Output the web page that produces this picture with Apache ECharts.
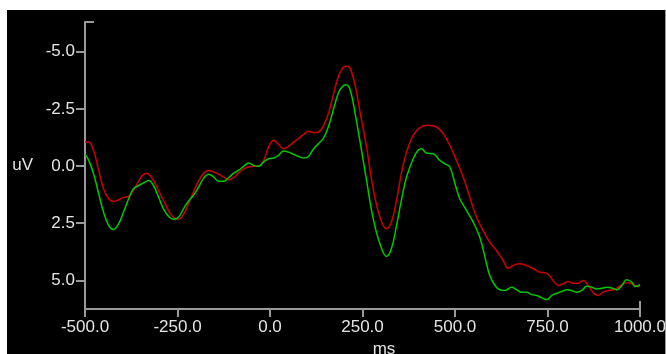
<!DOCTYPE html>
<html>
<head>
<meta charset="utf-8">
<script src="https://cdn.jsdelivr.net/npm/echarts@6/dist/echarts.min.js"></script>
<style>
  html, body { margin: 0; padding: 0; background: #ffffff; width: 666px; height: 354px; overflow: hidden; }
  #chart { position: absolute; left: 7px; top: 10px; width: 658px; height: 344px; background: #000000; border-right: 1px solid #999; overflow: hidden; }
</style>
</head>
<body>
<div id="chart"></div>
<script>
// Tick labels
const xTicks = [-500, -250, 0, 250, 500, 750, 1000];
const yTicks = [-5, -2.5, 0, 2.5, 5];

// Red waveform (ms, uV)
const redMs = [-500,-490,-477,-463,-450,-436,-423,-409,-396,-382,-369,-355,-342,-333,-324,-310,-297,-283,-270,-256,-247,-234,-220,-207,-193,-180,-166,-152,-139,-125,-112,-98,-85,-71,-58,-44,-31,-17,-4,10,23,37,50,64,77,91,104,118,131,145,159,172,186,199,208,217,231,244,261,278,297,315,328,342,355,369,387,405,427,450,468,486,504,522,540,558,576,594,612,630,644,657,675,693,711,729,747,765,779,792,806,819,833,846,860,873,887,900,914,927,941,954,968,981,995,1000];
const redUv = [-1.05,-1.05,-0.69,0.19,0.99,1.43,1.55,1.47,1.37,1.33,1.06,0.66,0.36,0.33,0.41,0.77,1.21,1.65,2.06,2.30,2.33,2.11,1.65,1.14,0.66,0.33,0.19,0.26,0.36,0.48,0.60,0.51,0.31,0.12,0.04,0.01,0.01,-0.25,-0.83,-1.13,-0.95,-0.76,-0.86,-1.05,-1.20,-1.39,-1.52,-1.46,-1.49,-1.78,-2.36,-3.17,-3.97,-4.33,-4.37,-4.26,-3.46,-2.30,-0.83,0.92,2.23,2.74,2.45,1.50,0.33,-0.61,-1.34,-1.68,-1.78,-1.71,-1.42,-0.91,-0.25,0.48,1.36,2.23,2.82,3.33,3.69,4.13,4.47,4.35,4.27,4.35,4.49,4.64,4.68,5.00,5.22,5.15,5.05,5.12,5.12,5.00,5.22,5.52,5.66,5.52,5.44,5.41,5.30,5.15,5.10,5.18,5.27,5.25];

// Green waveform (ms, uV)
const greenMs = [-500,-490,-477,-463,-450,-436,-423,-409,-396,-382,-369,-355,-342,-328,-315,-301,-288,-274,-261,-247,-234,-220,-207,-193,-180,-166,-152,-139,-125,-112,-98,-85,-71,-58,-44,-31,-17,-4,10,23,37,50,64,77,91,104,118,131,145,159,172,186,199,206,217,231,244,261,278,297,315,328,342,355,369,387,400,409,423,441,459,473,486,500,513,531,549,567,581,594,608,621,635,653,666,680,693,707,721,734,748,761,775,788,802,815,829,843,856,870,883,897,910,924,937,951,964,978,987,1000];
const greenUv = [-0.51,-0.25,0.33,1.21,2.01,2.60,2.77,2.52,2.01,1.43,0.99,0.85,0.74,0.63,0.85,1.36,1.87,2.20,2.33,2.23,1.87,1.53,1.28,0.92,0.55,0.36,0.48,0.66,0.66,0.51,0.31,0.19,0.01,-0.13,-0.03,0.01,-0.18,-0.32,-0.35,-0.47,-0.66,-0.61,-0.51,-0.42,-0.35,-0.42,-0.76,-0.98,-1.23,-1.78,-2.51,-3.24,-3.53,-3.56,-3.31,-2.22,-1.00,0.63,2.23,3.40,3.95,3.62,2.60,1.50,0.48,-0.32,-0.69,-0.76,-0.57,-0.54,-0.25,-0.10,0.04,0.77,1.43,1.94,2.45,3.11,3.98,4.79,5.22,5.41,5.44,5.30,5.40,5.52,5.52,5.62,5.66,5.76,5.85,5.66,5.56,5.49,5.41,5.44,5.52,5.44,5.25,5.30,5.37,5.34,5.30,5.33,5.41,5.22,4.97,5.08,5.27,5.19];

const Y_MIN = -6.3, Y_MAX = 6.25;
const axisColor = '#9a9a9a';
const labelColor = '#e4e4e4';
const font = 'Liberation Sans, Arial, sans-serif';

const chart = echarts.init(document.getElementById('chart'), null, { renderer: 'canvas' });
chart.setOption({
  backgroundColor: '#000000',
  animation: false,
  grid: { left: 78, right: 25, top: 12, bottom: 45, containLabel: false, outerBoundsMode: 'none' },
  xAxis: [{
    type: 'value', min: -500, max: 1000, interval: 250,
    name: 'ms', nameLocation: 'middle', nameGap: 28,
    nameTextStyle: { color: labelColor, fontSize: 17, fontFamily: font, padding: [0, 0, 0, 43] },
    axisLine: { show: true, onZero: false, lineStyle: { color: axisColor, width: 2 } },
    axisTick: { show: true, length: 8, lineStyle: { color: axisColor, width: 2 }, customValues: xTicks },
    axisLabel: { color: labelColor, fontSize: 17, fontFamily: font, margin: 10, customValues: xTicks,
      hideOverlap: false, formatter: v => v.toFixed(1) },
    splitLine: { show: false }
  }, {
    type: 'value', min: -500, max: 1000, position: 'bottom',
    axisLine: { show: false, onZero: false },
    axisTick: { show: true, inside: true, length: 8, lineStyle: { color: axisColor, width: 2 }, customValues: [1000] },
    axisLabel: { show: false },
    splitLine: { show: false }
  }],
  yAxis: [{
    type: 'value', inverse: true, min: Y_MIN, max: Y_MAX,
    name: 'uV', nameLocation: 'middle', nameGap: 52, nameRotate: 0,
    nameTextStyle: { color: labelColor, fontSize: 17, fontFamily: font },
    axisLine: { show: true, onZero: false, lineStyle: { color: axisColor, width: 2 } },
    axisTick: { show: true, length: 9, lineStyle: { color: axisColor, width: 2 }, customValues: yTicks },
    axisLabel: { color: labelColor, fontSize: 17, fontFamily: font, margin: 10, customValues: yTicks,
      formatter: v => v.toFixed(1) },
    splitLine: { show: false }
  }, {
    type: 'value', inverse: true, min: Y_MIN, max: Y_MAX, position: 'left',
    axisLine: { show: false, onZero: false },
    axisTick: { show: true, inside: true, length: 9, lineStyle: { color: axisColor, width: 2 }, customValues: [Y_MIN] },
    axisLabel: { show: false },
    splitLine: { show: false }
  }],
  series: [{
    type: 'line', name: 'red', smooth: 0.4, showSymbol: false,
    lineStyle: { color: '#cc0000', width: 1.5 },
    data: redMs.map((t, i) => [t, redUv[i]])
  }, {
    type: 'line', name: 'green', smooth: 0.4, showSymbol: false,
    lineStyle: { color: '#00c800', width: 1.5 },
    data: greenMs.map((t, i) => [t, greenUv[i]])
  }]
});
</script>
</body>
</html>
